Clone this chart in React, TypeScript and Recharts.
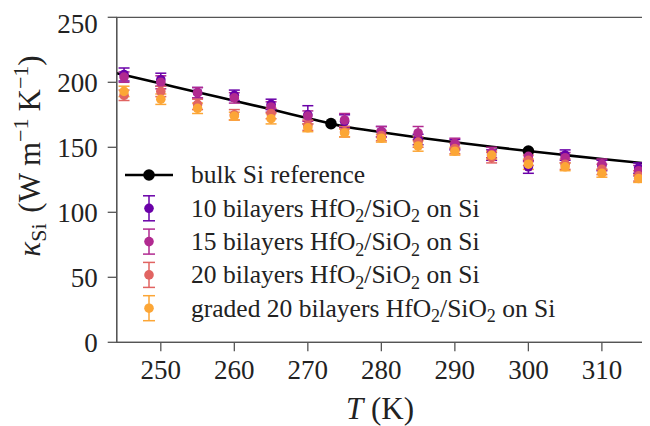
import React from 'react';
import { ComposedChart, Line, Scatter, XAxis, YAxis, ErrorBar, ReferenceArea } from 'recharts';

const temps = [245, 250, 255, 260, 265, 270, 275, 280, 285, 290, 295, 300, 305, 310, 315];

const kappa10 = [206, 202, 192, 190, 183, 175, 170, 162, 156, 152, 144, 135, 144, 136, 134];
const err10 = [5, 5, 4, 4, 4, 7, 5, 4, 4, 4, 4, 5, 4, 4, 4];
const kappa15 = [204, 200, 192, 188, 181, 174, 171, 162, 161, 153, 146, 143, 142, 137, 132];
const err15 = [4, 5, 4, 4, 4, 4, 5, 4, 5, 4, 4, 4, 4, 4, 4];
const kappa20 = [190, 193, 183, 175, 176, 167, 162, 159, 154, 149, 142, 140, 137, 133, 128];
const err20 = [4, 4, 4, 4, 4, 4, 4, 4, 4, 4, 4, 4, 4, 4, 4];
const kappaGraded = [193, 187, 180, 174, 172, 165, 161, 157, 151, 147, 144, 137, 135, 130, 126];
const errGraded = [4, 4, 4, 3, 4, 3, 3, 3, 4, 3, 3, 4, 3, 3, 3];

const bulkT = [244, 250, 255, 260, 265, 270, 273.15, 275, 280, 285, 290, 295, 300, 305, 310, 316];
const bulkK = [207, 199, 192.3, 185.8, 179.2, 172.4, 168.2, 166.0, 161.6, 157.6, 153.9, 150.4, 147.1, 144.0, 141.0, 137.6];
const bulkMarkT = [273.15, 300];
const bulkMarkK = [168.2, 147.1];

const xTicks = [250, 260, 270, 280, 290, 300, 310];
const yTicks = [0, 50, 100, 150, 200, 250];

const seriesNames = [
  '10 bilayers',
  '15 bilayers',
  '20 bilayers',
  'graded 20 bilayers',
];
const colors = ['#6a00a8', '#b12a90', '#e16462', '#fca636'];

const build = (vals: number[], errs: number[]) => temps.map((t, i) => ({ T: t, k: vals[i], e: errs[i] }));
const seriesData = [
  build(kappa10, err10),
  build(kappa15, err15),
  build(kappa20, err20),
  build(kappaGraded, errGraded),
];
const bulkData = bulkT.map((t, i) => ({ T: t, k: bulkK[i] }));
const bulkMarks = bulkMarkT.map((t, i) => ({ T: t, k: bulkMarkK[i] }));

const FONT = '"Liberation Serif", "Times New Roman", serif';
const W = 642;
const H = 418;

const dot = (color: string, r: number) => (props: any) => (
  <circle cx={props.cx} cy={props.cy} r={r} fill={color} />
);

export default function App() {
  const rowY = (i: number) => 167 + i * 33.3;
  return (
    <div style={{ position: 'relative', width: W, height: H }}>
      <ComposedChart
        width={W}
        height={H}
        margin={{ top: 9.3, right: 4, left: 8.7, bottom: 23.7 }}
      >
        <XAxis
          type="number"
          dataKey="T"
          domain={[244, 316]}
          ticks={xTicks}
          allowDataOverflow
          height={60}
          tickSize={9}
          tickMargin={9}
          stroke="#555"
          strokeWidth={1.3}
          tick={{ fill: '#222', fontSize: 27, fontFamily: FONT }}
        />
        <YAxis
          type="number"
          dataKey="k"
          domain={[0, 250]}
          ticks={yTicks}
          allowDataOverflow
          width={100}
          tickSize={9}
          tickMargin={10}
          stroke="#555"
          strokeWidth={1.3}
          tick={{ fill: '#222', fontSize: 27, fontFamily: FONT }}
        />
        <ReferenceArea x1={244} x2={316} y1={0} y2={250} fill="none" stroke="#555" strokeWidth={1.3} />
        <Line
          data={bulkData}
          dataKey="k"
          type="monotone"
          stroke="#000"
          strokeWidth={2.6}
          dot={false}
          activeDot={false}
          isAnimationActive={false}
        />
        <Scatter data={bulkMarks} dataKey="k" shape={dot('#000', 5.8)} isAnimationActive={false} />
        {seriesData.map((d, i) => (
          <Scatter key={i} data={d} dataKey="k" shape={dot(colors[i], 4.8)} isAnimationActive={false}>
            <ErrorBar dataKey="e" direction="y" width={5.5} stroke={colors[i]} strokeWidth={1.5} />
          </Scatter>
        ))}
      </ComposedChart>
      <svg
        width={W}
        height={H}
        style={{ position: 'absolute', left: 0, top: 0, pointerEvents: 'none' }}
      >
        {/* legend */}
        <g fontFamily={FONT} fontSize={25.5} fill="#222">
          <line x1={117} x2={165} y1={rowY(0)} y2={rowY(0)} stroke="#000" strokeWidth={2.6} />
          <circle cx={141} cy={rowY(0)} r={5.8} fill="#000" />
          <text x={183} y={rowY(0)} dy="0.33em">bulk Si reference</text>
          {seriesNames.map((name, i) => {
            const y = rowY(i + 1);
            const c = colors[i];
            return (
              <g key={name}>
                <line x1={141} x2={141} y1={y - 12.5} y2={y + 12.5} stroke={c} strokeWidth={1.5} />
                <line x1={135} x2={147} y1={y - 12.5} y2={y - 12.5} stroke={c} strokeWidth={1.5} />
                <line x1={135} x2={147} y1={y + 12.5} y2={y + 12.5} stroke={c} strokeWidth={1.5} />
                <circle cx={141} cy={y} r={4.8} fill={c} />
                <text x={183} y={y} dy="0.33em">
                  {name} HfO<tspan dy="5.5" fontSize={18}>2</tspan>
                  <tspan dy="-5.5">/SiO</tspan>
                  <tspan dy="5.5" fontSize={18}>2</tspan>
                  <tspan dy="-5.5"> on Si</tspan>
                </text>
              </g>
            );
          })}
        </g>
        {/* x label */}
        <text x={372} y={400} dy="0.35em" textAnchor="middle" fontFamily={FONT} fontSize={31} fill="#222">
          <tspan fontStyle="italic">T</tspan> (K)
        </text>
        {/* y label */}
        <text
          x={21}
          y={148}
          dy="0.35em"
          textAnchor="middle"
          transform="rotate(-90, 21, 148)"
          fontFamily={FONT}
          fontSize={31}
          fill="#222"
        >
          <tspan fontStyle="italic">κ</tspan>
          <tspan dy="6.5" fontSize={22}>Si</tspan>
          <tspan dy="-6.5" dx="3">{'\u00a0(W'}</tspan>
          <tspan dx="7">m</tspan>
          <tspan dy="-12" fontSize={22}>−1</tspan>
          <tspan dy="12" dx="7">K</tspan>
          <tspan dy="-12" fontSize={22}>−1</tspan>
          <tspan dy="12">)</tspan>
        </text>
      </svg>
    </div>
  );
}
